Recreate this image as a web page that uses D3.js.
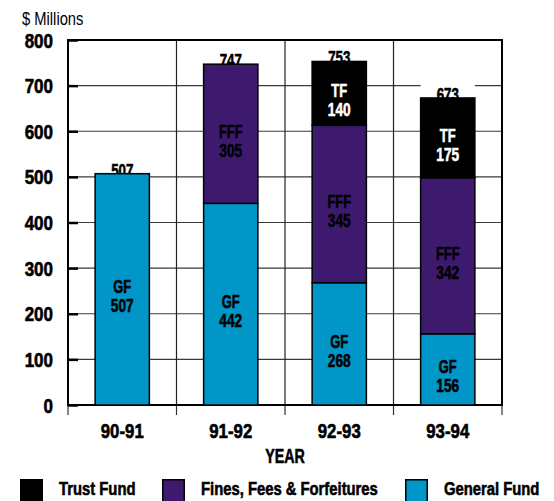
<!DOCTYPE html>
<html>
<head>
<meta charset="utf-8">
<script src="https://cdn.jsdelivr.net/npm/d3@7"></script>
<style>
  html, body { margin: 0; padding: 0; background: #fff; }
  svg { display: block; }
  text { font-family: "Liberation Sans", Arial, sans-serif; }
</style>
</head>
<body>
<svg id="chart" width="554" height="501"></svg>
<script>
// Fiscal years and funding sources ($ millions)
const years = ["90-91", "91-92", "92-93", "93-94"];
const generalFund = [507, 442, 268, 156];
const finesFees = [0, 305, 345, 342];
const trustFund = [0, 0, 140, 175];
const totals = [507, 747, 753, 673];
const yTicks = [0, 100, 200, 300, 400, 500, 600, 700, 800];

const series = [
  { key: "GF", name: "General Fund", values: generalFund, fill: "#0096c8", text: "#000" },
  { key: "FFF", name: "Fines, Fees & Forfeitures", values: finesFees, fill: "#3d1a6e", text: "#000" },
  { key: "TF", name: "Trust Fund", values: trustFund, fill: "#000", text: "#fff" }
];

const svg = d3.select("#chart");
const plotL = 68, plotR = 502, plotT = 40, plotB = 405;

const x = d3.scaleBand().domain(years).range([plotL, plotR]).paddingInner(0).paddingOuter(0);
const y = d3.scaleLinear().domain([0, 800]).range([plotB, plotT]);
const barW = x.bandwidth() * 0.5;

// condensed heavy text: a bold face squeezed horizontally around its anchor
function label(parent, px, py, str, size, sx, opts = {}) {
  const fill = opts.fill || "#000";
  const t = parent.append("text")
    .attr("transform", `translate(${px},${py}) scale(${sx},1)`)
    .attr("text-anchor", opts.anchor || "start")
    .attr("font-size", size)
    .attr("font-weight", opts.weight || "bold")
    .attr("fill", fill)
    .text(str);
  if ((opts.weight || "bold") === "bold") {
    t.attr("stroke", fill).attr("stroke-width", 0.6);
  }
  return t;
}

// horizontal gridlines
svg.append("g").selectAll("line")
  .data(yTicks.filter(t => t > 0 && t < 800))
  .join("line")
  .attr("x1", plotL).attr("x2", plotR)
  .attr("y1", d => y(d)).attr("y2", d => y(d))
  .attr("stroke", "#3a3a3a").attr("stroke-width", 1.2);

// vertical separators between years, with ticks below the axis
const bounds = years.map(d => x(d)).concat([plotR]);
svg.append("g").selectAll("line")
  .data(bounds.slice(1, -1))
  .join("line")
  .attr("x1", d => d).attr("x2", d => d)
  .attr("y1", plotT).attr("y2", plotB)
  .attr("stroke", "#222").attr("stroke-width", 1.2);
svg.append("g").selectAll("line")
  .data(bounds)
  .join("line")
  .attr("x1", d => d).attr("x2", d => d)
  .attr("y1", plotB).attr("y2", plotB + 10)
  .attr("stroke", "#333").attr("stroke-width", 1.2);

// y axis: labels and short inner ticks
const yAxis = d3.axisLeft(y).tickValues(yTicks).tickSize(-10).tickPadding(15);
const gy = svg.append("g").attr("transform", `translate(${plotL},0)`).call(yAxis);
gy.select(".domain").remove();
gy.selectAll(".tick line").attr("stroke", "#000").attr("stroke-width", 2.5);
gy.selectAll(".tick text")
  .attr("font-size", 20).attr("font-weight", "bold").attr("fill", "#000")
  .attr("stroke", "#000").attr("stroke-width", 0.6)
  .attr("x", 0).attr("dy", 7)
  .attr("transform", "translate(-15,0) scale(0.85,1)");

// frame
svg.append("rect")
  .attr("x", plotL).attr("y", plotT)
  .attr("width", plotR - plotL).attr("height", plotB - plotT)
  .attr("fill", "none").attr("stroke", "#000").attr("stroke-width", 2);

// totals above each column, on a white backing
const totalG = svg.append("g");
years.forEach((yr, i) => {
  const cx = x(yr) + x.bandwidth() / 2;
  totalG.append("rect")
    .attr("x", cx - barW / 2).attr("y", y(totals[i]) - 16)
    .attr("width", barW).attr("height", 16)
    .attr("fill", "#fff");
  label(totalG, cx, y(totals[i]) + 3, totals[i], 18, 0.74, { anchor: "middle" });
});

// stacked bars
const stackData = years.map((yr, i) => {
  const row = { year: yr };
  series.forEach(s => row[s.key] = s.values[i]);
  return row;
});
const stack = d3.stack().keys(series.map(s => s.key))(stackData);

stack.forEach((layer, li) => {
  const s = series[li];
  const g = svg.append("g");
  layer.forEach((seg, i) => {
    const v = seg[1] - seg[0];
    if (v <= 0) return;
    const cx = x(years[i]) + x.bandwidth() / 2;
    g.append("rect")
      .attr("x", cx - barW / 2).attr("y", y(seg[1]))
      .attr("width", barW).attr("height", y(seg[0]) - y(seg[1]))
      .attr("fill", s.fill).attr("stroke", "#000").attr("stroke-width", 1.5);
  });
});

// segment labels: short name over the amount
const segG = svg.append("g");
stack.forEach((layer, li) => {
  const s = series[li];
  layer.forEach((seg, i) => {
    const v = seg[1] - seg[0];
    if (v <= 0) return;
    const cx = x(years[i]) + x.bandwidth() / 2;
    const cy = (y(seg[0]) + y(seg[1])) / 2;
    label(segG, cx, cy + 4, s.key, 19, 0.68, { anchor: "middle", fill: s.text });
    label(segG, cx, cy + 23, v, 19, 0.72, { anchor: "middle", fill: s.text });
  });
});

// x axis labels
const xAxis = d3.axisBottom(x).tickSize(0).tickPadding(0);
const gx = svg.append("g").attr("transform", `translate(0,${plotB})`).call(xAxis);
gx.select(".domain").remove();
gx.selectAll(".tick text")
  .attr("font-size", 20).attr("font-weight", "bold").attr("fill", "#000")
  .attr("stroke", "#000").attr("stroke-width", 0.6)
  .attr("y", 0).attr("dy", 0)
  .attr("transform", "translate(0,33) scale(0.84,1)");

// titles
label(svg, (plotL + plotR) / 2, 463, "YEAR", 21, 0.68, { anchor: "middle" });
label(svg, 22, 25, "$ Millions", 18, 0.82, { weight: "normal" });

// legend
const legendItems = [series[2], series[1], series[0]];
const legendX = [20, 162, 405];
legendItems.forEach((s, i) => {
  const g = svg.append("g").attr("transform", `translate(${legendX[i]},479)`);
  g.append("rect").attr("x", 0.75).attr("y", 0.75).attr("width", 21.5).attr("height", 22)
    .attr("fill", s.fill).attr("stroke", "#000").attr("stroke-width", 1.5);
  label(g, 39, 16, s.name, 19, 0.78);
});
</script>
</body>
</html>
